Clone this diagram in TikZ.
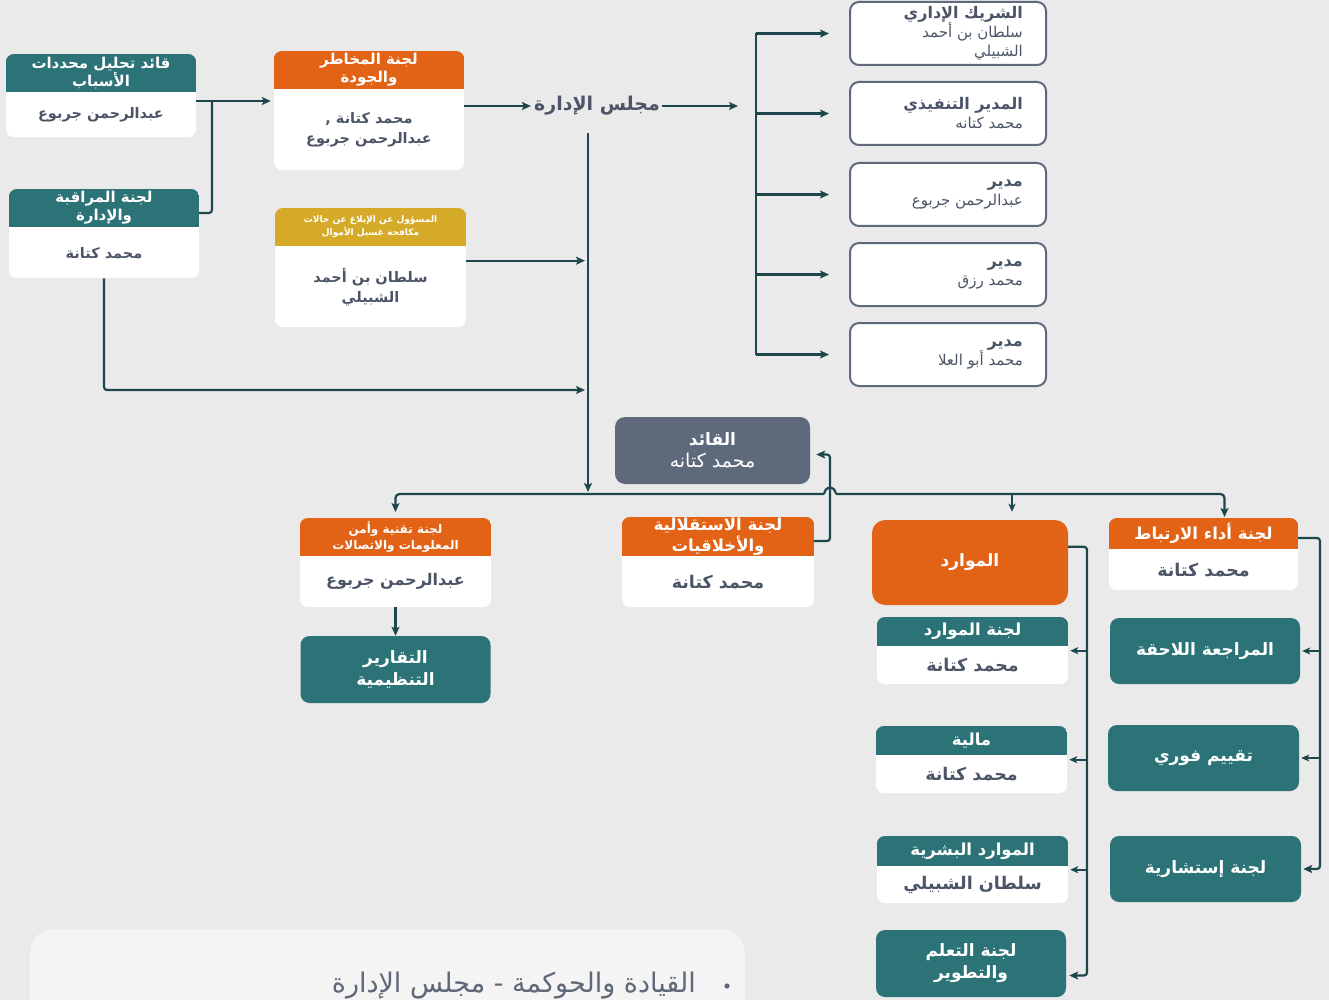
\documentclass[tikz,border=0pt]{standalone}
\usepackage{fontspec}
\newfontfamily\arabicfont[Script=Arabic]{DejaVu Sans}
\TeXXeTstate=1
\usetikzlibrary{arrows.meta, positioning, calc}

\definecolor{bggrey}{HTML}{EAEAEA}
\definecolor{panelgrey}{HTML}{F4F4F4}
\definecolor{tealbox}{HTML}{2C7378}
\definecolor{orangebox}{HTML}{E26216}
\definecolor{goldbox}{HTML}{D5AA28}
\definecolor{slate}{HTML}{5E6A7C}
\definecolor{wire}{HTML}{1D474C}
\definecolor{inkgrey}{HTML}{4C5567}
\definecolor{captiongrey}{HTML}{5F6878}

\newcommand{\artext}[1]{\beginR #1\endR}
\newcommand{\persontitle}{\bfseries\fontsize{16}{19}\selectfont}

% card with coloured header: name, x centre, y top, width, header height, body height, colour, header, body
\newcommand{\card}[9]{%
  \node[cardbody, minimum width=#4pt, minimum height=#5pt+#6pt, anchor=north] (#1) at (#2,#3) {};
  \begin{scope}
    \clip[rounded corners=8pt] (#1.north west) rectangle (#1.south east);
    \fill[#7] (#1.north west) rectangle ([yshift=-#5pt]#1.north east);
  \end{scope}
  \node[headtext] (#1-h) at ([yshift=-#5pt/2]#1.north) {#8};
  \node[bodytext] (#1-b) at ($([yshift=-#5pt]#1.north)!0.5!(#1.south)$) {#9};
}

\begin{document}
\begin{tikzpicture}[x=1pt, y=-1pt,
  cardbody/.style={fill=white, rounded corners=8pt, inner sep=0pt},
  headtext/.style={text=white, align=center, inner sep=0pt, font=\arabicfont\bfseries\fontsize{15}{18}\selectfont},
  bodytext/.style={text=inkgrey, align=center, inner sep=0pt, font=\arabicfont\bfseries\fontsize{14.5}{20}\selectfont},
  solidbox/.style={fill=tealbox, rounded corners=9pt, text=white, align=center, inner sep=0pt, font=\arabicfont\bfseries\fontsize{17}{22}\selectfont},
  personbox/.style={draw=slate, line width=2pt, fill=white, rounded corners=9pt, minimum width=196pt, minimum height=63pt},
  persontext/.style={text=inkgrey, align=right, inner sep=0pt, anchor=east, font=\arabicfont\fontsize{15}{19}\selectfont},
  link/.style={draw=wire, line width=2.2pt},
  flow/.style={link, -{Stealth[length=9pt, width=8pt, inset=2pt]}},
  thinflow/.style={draw=wire, line width=1.6pt, -{Stealth[length=8pt, width=7pt, inset=2pt]}}
]
  \useasboundingbox (0,0) rectangle (1329,1000);
  \fill[bggrey] (0,0) rectangle (1329,1000);

  % bottom panel
  \fill[panelgrey, rounded corners=24pt] (30,929) rectangle (745,1040);
  \node[text=captiongrey, inner sep=0pt, anchor=east, font=\arabicfont\fontsize{27}{30}\selectfont] (caption) at (696,986) {\artext{القيادة والحوكمة - مجلس الإدارة}};
  \fill[captiongrey] (727,986) circle (2.6pt);

  % left column
  \card{cause}{101}{54}{190}{38}{45}{tealbox}{\artext{قائد تحليل محددات}\\\artext{الأسباب}}{\artext{عبدالرحمن جربوع}}
  \card{monitor}{104}{189}{190}{38}{51}{tealbox}{\artext{لجنة المراقبة}\\\artext{والإدارة}}{\artext{محمد كتانة}}
  \card{risk}{369}{51}{190}{38}{81}{orangebox}{\artext{لجنة المخاطر}\\\artext{والجودة}}{\artext{محمد كتانة ,}\\\artext{عبدالرحمن جربوع}}
  \begin{scope}[headtext/.append style={font=\arabicfont\bfseries\fontsize{9}{13}\selectfont}]
    \card{aml}{370.5}{208}{191}{38}{81}{goldbox}{\artext{المسؤول عن الإبلاغ عن حالات}\\\artext{مكافحة غسيل الأموال}}{\artext{سلطان بن أحمد}\\\artext{الشبيلي}}
  \end{scope}

  % board
  \node[text=inkgrey, inner sep=2pt, font=\arabicfont\bfseries\fontsize{19}{24}\selectfont] (board) at (597,106) {\artext{مجلس الإدارة}};

  % management
  \foreach \name/\yy in {p1/33.5, p2/113.5, p3/194.5, p4/274.5, p5/354.5}
    \node[personbox] (\name) at (948,\yy) {};
  \node[persontext] (p1-t) at ([xshift=-24pt]p1.east) {{\persontitle\artext{الشريك الإداري}}\\\artext{سلطان بن أحمد}\\\artext{الشبيلي}};
  \node[persontext] (p2-t) at ([xshift=-24pt]p2.east) {{\persontitle\artext{المدير التنفيذي}}\\\artext{محمد كتانه}};
  \node[persontext] (p3-t) at ([xshift=-24pt]p3.east) {{\persontitle\artext{مدير}}\\\artext{عبدالرحمن جربوع}};
  \node[persontext] (p4-t) at ([xshift=-24pt]p4.east) {{\persontitle\artext{مدير}}\\\artext{محمد رزق}};
  \node[persontext] (p5-t) at ([xshift=-24pt]p5.east) {{\persontitle\artext{مدير}}\\\artext{محمد أبو العلا}};

  % leader
  \node[fill=slate, rounded corners=10pt, minimum width=195pt, minimum height=67pt, text=white, align=center, inner sep=0pt, font=\arabicfont\fontsize{19}{22}\selectfont] (leader) at (712.5,450.5) {{\bfseries\fontsize{17}{22}\selectfont\artext{القائد}}\\\artext{محمد كتانه}};

  % lower committees
  \begin{scope}[headtext/.append style={font=\arabicfont\bfseries\fontsize{12}{16}\selectfont},
                bodytext/.append style={font=\arabicfont\bfseries\fontsize{16}{20}\selectfont}]
    \card{infosec}{395.5}{518}{191}{38}{51}{orangebox}{\artext{لجنة تقنية وأمن}\\\artext{المعلومات والاتصالات}}{\artext{عبدالرحمن جربوع}}
  \end{scope}
  \begin{scope}[headtext/.append style={font=\arabicfont\bfseries\fontsize{16.5}{21}\selectfont},
                bodytext/.append style={font=\arabicfont\bfseries\fontsize{17.5}{20}\selectfont}]
    \card{ethics}{718}{517}{192}{39}{51}{orangebox}{\artext{لجنة الاستقلالية}\\\artext{والأخلاقيات}}{\artext{محمد كتانة}}
    \card{engage}{1203.5}{518}{189}{31}{41}{orangebox}{\artext{لجنة أداء الارتباط}}{\artext{محمد كتانة}}
    \card{rescomm}{972.5}{617}{191}{29}{38}{tealbox}{\artext{لجنة الموارد}}{\artext{محمد كتانة}}
    \card{finance}{971.5}{726}{191}{29}{38}{tealbox}{\artext{مالية}}{\artext{محمد كتانة}}
    \card{hr}{972.5}{836}{191}{30}{37}{tealbox}{\artext{الموارد البشرية}}{\artext{سلطان الشبيلي}}
  \end{scope}

  \node[solidbox, fill=orangebox, rounded corners=13pt, minimum width=196pt, minimum height=85pt] (resources) at (970,562.5) {\artext{الموارد}};
  \node[solidbox, minimum width=190pt, minimum height=67pt] (reports) at (395.5,669.5) {\artext{التقارير}\\\artext{التنظيمية}};
  \node[solidbox, minimum width=190pt, minimum height=67pt] (learn) at (971,963.5) {\artext{لجنة التعلم}\\\artext{والتطوير}};
  \node[solidbox, minimum width=190pt, minimum height=66pt] (review) at (1205,651) {\artext{المراجعة اللاحقة}};
  \node[solidbox, minimum width=191pt, minimum height=66pt] (instant) at (1203.5,758) {\artext{تقييم فوري}};
  \node[solidbox, minimum width=191pt, minimum height=66pt] (advisory) at (1205.5,869) {\artext{لجنة إستشارية}};

  % connectors: top
  \coordinate (join) at (212,101);
  \draw[flow, shorten >=3pt] (cause.east |- join) -- (risk.west |- join);
  \draw[link, rounded corners=3pt] ([yshift=-24pt]monitor.north east) -| (join);
  \draw[flow, shorten >=1pt] (risk.east |- board) -- (board.west);
  \coordinate (fan) at (738,106);
  \draw[flow] (board.east) -- (fan);
  \coordinate (spine) at (756,0);
  \draw[link] (p1.west -| spine) -- (p5.west -| spine);
  \foreach \name in {p1,p2,p3,p4,p5}
    \draw[flow, shorten >=20pt] (\name.west -| spine) -- (\name.west);

  % connectors: board bus
  \coordinate (busTop) at (588,133);
  \coordinate (busEnd) at (588,492);
  \coordinate (feed) at (0,390);
  \draw[flow] (busTop) -- (busEnd);
  \coordinate (amlOut) at ([yshift=7pt]aml.east);
  \draw[flow, shorten >=3pt] (amlOut) -- (amlOut -| busTop);
  \draw[flow, shorten >=3pt, rounded corners=3pt] (monitor.south) |- (busTop |- feed);

  % connectors: distribution line
  \coordinate (hopL) at (824,494);
  \coordinate (hopR) at (836,494);
  \coordinate (engageIn) at ([xshift=21pt, yshift=1pt]engage.north);
  \draw[flow, rounded corners=4pt] (hopL) -| ([yshift=6pt]infosec.north);
  \draw[flow, rounded corners=4pt] (hopR) -| (engageIn);
  \draw[link] (hopL) .. controls (826,485) and (834,485) .. (hopR);
  \coordinate (tick) at (1012,494);
  \draw[thinflow, shorten >=8pt] (tick) -- (tick |- resources.north);
  \coordinate (riser) at (830,0);
  \coordinate (leaderIn) at ([xshift=6pt, yshift=-4pt]leader.east);
  \draw[flow, rounded corners=3pt] ([yshift=-24pt]ethics.north east) -| (riser |- leaderIn) -- (leaderIn);
  \draw[flow] (infosec.south) -- (reports.north);

  % connectors: resources rail
  \coordinate (rail) at (1087,0);
  \coordinate (learnIn) at ([xshift=3pt, yshift=-12pt]learn.east);
  \draw[flow, rounded corners=3pt] ([yshift=-27pt]resources.north east) -| (rail |- learnIn) -- (learnIn);
  \foreach \name in {rescomm, finance, hr}
    \draw[thinflow] (rail |- \name.east) -- ([xshift=2pt]\name.east);

  % connectors: engagement rail
  \coordinate (rail2) at (1320,0);
  \draw[flow, rounded corners=3pt] ([yshift=-20pt]engage.north east) -| (rail2 |- advisory.east) -- ([xshift=2pt]advisory.east);
  \foreach \name in {review, instant}
    \draw[thinflow] (rail2 |- \name.east) -- ([xshift=2pt]\name.east);
\end{tikzpicture}
\end{document}
